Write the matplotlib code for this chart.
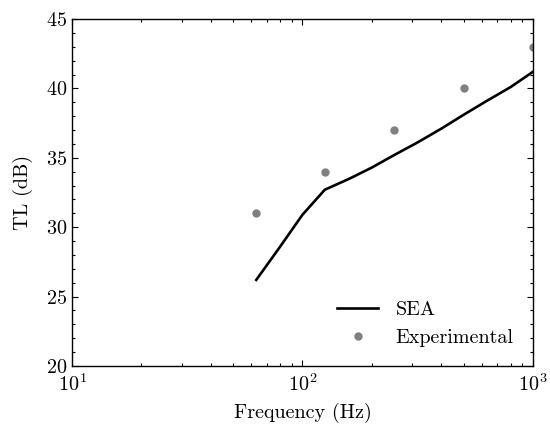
import numpy as np
import matplotlib
matplotlib.use("Agg")
from matplotlib import pyplot as plt
from matplotlib.ticker import MultipleLocator

plt.rcParams["font.family"] = "serif"
plt.rcParams["font.serif"] = ["cmr10"]
plt.rcParams["mathtext.fontset"] = "cm"
plt.rcParams["axes.formatter.use_mathtext"] = True
plt.rcParams["font.size"] = 14.5

# SEA prediction (third-octave bands)
freq_sea = [63, 80, 100, 125, 160, 200, 250, 315, 400, 500, 630, 800, 1000]
tl_sea = [26.2, 28.6, 30.9, 32.7, 33.5, 34.3, 35.2, 36.1, 37.1, 38.1, 39.1, 40.1, 41.2]

# measured (octave bands)
freq_exp = [63, 125, 250, 500, 1000]
tl_exp = [31, 34, 37, 40, 43]

fig, ax = plt.subplots(figsize=(5.5, 4.24), dpi=100)
fig.subplots_adjust(left=0.131, right=0.969, top=0.955, bottom=0.137)

ax.plot(freq_sea, tl_sea, color="black", lw=1.9, label="SEA")
ax.plot(freq_exp, tl_exp, "o", color="#808080", ms=5, label="Experimental")

ax.set_xscale("log")
ax.set_xlim(10, 1000)
ax.set_ylim(20, 45)
ax.yaxis.set_major_locator(MultipleLocator(5))
ax.yaxis.set_minor_locator(MultipleLocator(1))
ax.tick_params(which="both", direction="in", top=True, right=True)
ax.tick_params(which="major", length=4.5, width=0.8)
ax.tick_params(which="minor", length=2.5, width=0.8)
ax.tick_params(axis="x", pad=5)
for s in ax.spines.values():
    s.set_linewidth(1.0)

ax.set_xlabel("Frequency (Hz)", labelpad=6)
ax.set_ylabel("TL (dB)", labelpad=9)
ax.legend(loc="lower right", frameon=False, handlelength=2.0,
          handletextpad=0.9, borderaxespad=0.55)

plt.savefig("out.png", dpi=100)
